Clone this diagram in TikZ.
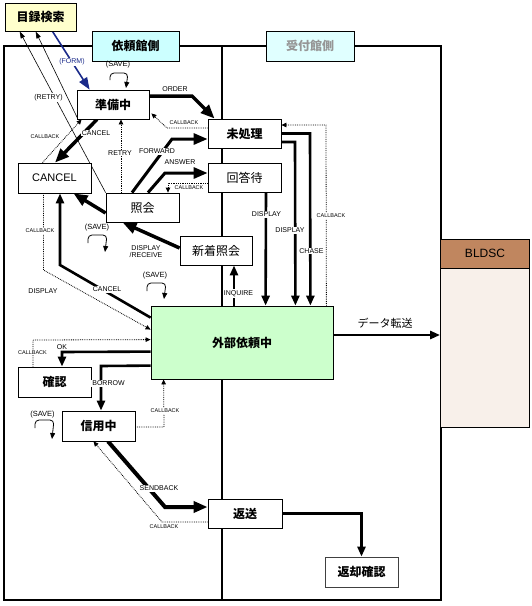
\documentclass[tikz,border=0pt]{standalone}
\usepackage{fontspec}
\setmainfont{Liberation Sans}
\newfontfamily\jp{Noto Sans CJK JP}
\usetikzlibrary{arrows.meta,backgrounds}
\definecolor{yel}{HTML}{FFFFCC}
\definecolor{cyanA}{HTML}{CCFFFF}
\definecolor{cyanB}{HTML}{E0FFFF}
\definecolor{grayT}{HTML}{969696}
\definecolor{brn}{HTML}{C0865F}
\definecolor{pale}{HTML}{F8F0EA}
\definecolor{grn}{HTML}{CCFFCC}
\definecolor{navyc}{HTML}{1A2A8A}
\begin{document}
\begin{tikzpicture}[x=1pt,y=-1pt,
  box/.style={draw, line width=0.8pt, fill=white, inner sep=0pt, font=\jp\fontsize{12}{12}\selectfont},
  big/.style={line width=3.5pt, -{Triangle[length=14pt,width=11pt]}},
  med/.style={line width=2.6pt, -{Triangle[length=10pt,width=8pt]}},
  dotarr/.style={densely dotted, line width=0.8pt, -{Triangle[length=5pt,width=4.5pt]}},
  thinarr/.style={line width=0.6pt, -{Triangle[length=7pt,width=4.5pt]}},
  loopy/.style={line width=0.8pt, rounded corners=4pt, -{Triangle[length=6pt,width=5pt]}},
  lab/.style={font=\fontsize{7}{7.5}\selectfont, inner sep=1pt},
  labw/.style={lab, fill=white},
  cb/.style={font=\fontsize{5.5}{6}\selectfont, inner sep=0.8pt},
  cbw/.style={cb, fill=white},
  savel/.style={font=\fontsize{7.5}{8}\selectfont, inner sep=0pt}]
\useasboundingbox (0,0) rectangle (532,606);

% nodes
\node[box, fill=yel, minimum width=71pt, minimum height=28pt] (mok) at (40.5,17) {\bfseries 目録検索};
\node[box, fill=cyanA, minimum width=87pt, minimum height=30pt] (irai) at (135.5,46) {\bfseries 依頼館側};
\node[box, fill=cyanB, text=grayT, minimum width=88pt, minimum height=30pt] (uke) at (310,46) {\bfseries 受付館側};
\node[box, fill=brn, minimum width=89pt, minimum height=29pt, font=\fontsize{12}{12}\selectfont] (bld) at (485,253.5) {BLDSC};
\node[box, fill=pale, minimum width=89pt, minimum height=159pt] (bldb) at (485,347.5) {};
\node[box, minimum width=72pt, minimum height=29pt] (jun) at (113,104.5) {\bfseries 準備中};
\node[box, minimum width=73pt, minimum height=29pt] (mi) at (244.5,133.5) {\bfseries 未処理};
\node[box, minimum width=73pt, minimum height=29pt] (kai) at (244.5,177.5) {回答待};
\node[box, minimum width=73pt, minimum height=30pt, font=\fontsize{11}{11}\selectfont] (can) at (54.5,178) {CANCEL};
\node[box, minimum width=73pt, minimum height=29pt] (sho) at (142.5,207.5) {照会};
\node[box, minimum width=72pt, minimum height=29pt] (shin) at (216,250.5) {新着照会};
\node[box, fill=grn, minimum width=182pt, minimum height=73pt] (gai) at (242,342.5) {\bfseries 外部依頼中};
\node[box, minimum width=73pt, minimum height=30pt] (kaku) at (54.5,382) {\bfseries 確認};
\node[box, minimum width=73pt, minimum height=30pt] (shinyo) at (98.5,426) {\bfseries 信用中};
\node[box, minimum width=74pt, minimum height=29pt] (hen) at (245,513.5) {\bfseries 返送};
\node[box, draw=black!75, minimum width=73pt, minimum height=30pt] (henk) at (361.5,572) {\bfseries 返却確認};

\begin{scope}[on background layer]
\draw[line width=2pt] (4,46) rectangle (441,600);
\draw[line width=2pt] (222,46) -- (222,600);
% FORM
\draw[navyc, line width=1.6pt, -{Triangle[length=12pt,width=9pt]}] ([xshift=12pt]mok.south) -- ([xshift=13pt]jun.north west);
% RETRY thin lines
\draw[thinarr] ([xshift=0pt]sho.north west) -- ([xshift=15pt]mok.south west);
\draw[thinarr] ([xshift=1pt,yshift=1pt]jun.south west) -- ([xshift=31pt]mok.south west);
% ORDER
\draw[big] ([yshift=8.5pt]jun.east) -- (192,96) -- ([xshift=7pt]mi.north west);
\draw[dotarr] ([yshift=5.5pt]mi.west) -- (167,128) -- ([xshift=2pt,yshift=6pt]jun.south east);
% CANCEL from jun
\draw[big] ([xshift=-16pt]jun.south) -- ([xshift=0.5pt]can.north);
\draw[dotarr] ([xshift=-12pt]can.north) -- ([xshift=5pt]jun.south west);
% RETRY dotted
\draw[dotarr] ([xshift=-21.5pt]sho.north) -- ([xshift=8pt]jun.south);
% FORWARD / ANSWER
\draw[big, line width=3pt] ([xshift=-10.5pt]sho.north) -- (172,139) -- ([yshift=-5.5pt]mi.west);
\draw[big, line width=3pt] ([xshift=5.5pt]sho.north) -- (165,173) -- ([yshift=4.5pt]kai.west);
\draw[dotarr] ([yshift=-5.5pt]kai.west) -- (168,183) -- ([xshift=25.5pt]sho.north);
% sho -> can
\draw[big] ([yshift=-5.5pt]sho.west) -- ([xshift=19pt]can.south);
% DISPLAY/RECEIVE
\draw[big] ([yshift=2.5pt]shin.west) -- ([xshift=-20pt]sho.south);
% CANCEL from gai
\draw[med] ([yshift=-12pt]gai.north west) -- (60,265) -- ([xshift=5.5pt]can.south);
\draw[dotarr] ([xshift=-11pt]can.south) -- (43.5,270) -- ([yshift=-24pt]gai.north west);
% kaku
\draw[dotarr] ([xshift=-21.5pt]kaku.north) -- (33,340) -- ([yshift=-34pt]gai.north west);
\draw[med] ([yshift=-46pt]gai.north west) -- (62,352) -- ([xshift=7.5pt]kaku.north);
% BORROW
\draw[med] ([yshift=-60pt]gai.north west) -- (101,366) -- ([xshift=2.5pt]shinyo.north);
\draw[dotarr] ([yshift=-1pt]shinyo.east) -- (164,427) -- ([xshift=13pt]gai.south west);
% SENDBACK
\draw[big, line width=4pt] ([xshift=9.5pt]shinyo.south) -- (165,507) -- ([yshift=6.5pt]hen.west);
\draw[dotarr] ([yshift=-8.5pt]hen.west) -- (162,522) -- ([xshift=-5pt]shinyo.south);
% right side
\draw[med] (mi.east) -- (310,133.5) -- ([xshift=-23pt]gai.north east);
\draw[med] ([yshift=-8.5pt]mi.east) -- (295,142) -- ([xshift=-38pt]gai.north east);
\draw[med] ([xshift=21.5pt]kai.south) -- ([xshift=115pt]gai.north west);
\draw[dotarr] ([xshift=-7pt]gai.north east) -- (326,125) -- ([yshift=8.5pt]mi.east);
\draw[med] ([xshift=-8pt]gai.north) -- ([xshift=18pt]shin.south);
\draw[med] ([yshift=7.5pt]gai.east) -- ([yshift=12.5pt]bldb.west);
\draw[med] (hen.east) -- (361.5,513.5) -- (henk.north);
% SAVE loops
\draw[loopy] (110,80) -- (110,73) -- (128,73) -- (126,88);
\draw[loopy] (88,243) -- (88,235) -- (107,235) -- (105,252);
\draw[loopy] (147,291) -- (147,283) -- (166,283) -- (164,299);
\draw[loopy] (35,428) -- (35,420) -- (54,420) -- (52,439);
\end{scope}

% labels
\node[labw, text=navyc] (lform) at (72,62) {(FORM)};
\node[labw] (lretry) at (48.5,97.5) {(RETRY)};
\node[lab] (lorder) at (175,89.5) {ORDER};
\node[cb] (lcb1) at (184,122.5) {CALLBACK};
\node[cb] (lcb2) at (45,137) {CALLBACK};
\node[labw] (lcan1) at (96,133) {CANCEL};
\node[labw] (lretry2) at (120,153) {RETRY};
\node[labw] (lfwd) at (157,151.5) {FORWARD};
\node[lab] (lans) at (180,162.5) {ANSWER};
\node[cb] (lcb3) at (189,187.5) {CALLBACK};
\node[savel] (ls1) at (118,65) {(SAVE)};
\node[savel] (ls2) at (97,228) {(SAVE)};
\node[savel] (ls3) at (155,276) {(SAVE)};
\node[savel] (ls4) at (42.5,415) {(SAVE)};
\node[lab, align=center] (ldr) at (146,251.5) {DISPLAY\\/RECEIVE};
\node[labw] (lcan2) at (107,289.5) {CANCEL};
\node[cbw] (lcb4) at (40,231) {CALLBACK};
\node[lab] (ldisp1) at (43,291.5) {DISPLAY};
\node[cbw] (lcb5) at (32.5,352.5) {CALLBACK};
\node[lab] (lok) at (62,347) {OK};
\node[labw] (lbor) at (108.5,383.5) {BORROW};
\node[cbw] (lcb6) at (165,411) {CALLBACK};
\node[labw] (lsend) at (159,488.5) {SENDBACK};
\node[cb] (lcb7) at (164,527) {CALLBACK};
\node[labw] (ldisp2) at (266.5,214.5) {DISPLAY};
\node[labw] (ldisp3) at (290,230.5) {DISPLAY};
\node[labw] (lchase) at (311.5,251) {CHASE};
\node[cbw] (lcb8) at (331,216) {CALLBACK};
\node[labw] (linq) at (238.5,293.5) {INQUIRE};
\node[font=\jp\fontsize{11}{11}\selectfont, inner sep=0pt] (ldata) at (385,323) {データ転送};
\end{tikzpicture}
\end{document}
